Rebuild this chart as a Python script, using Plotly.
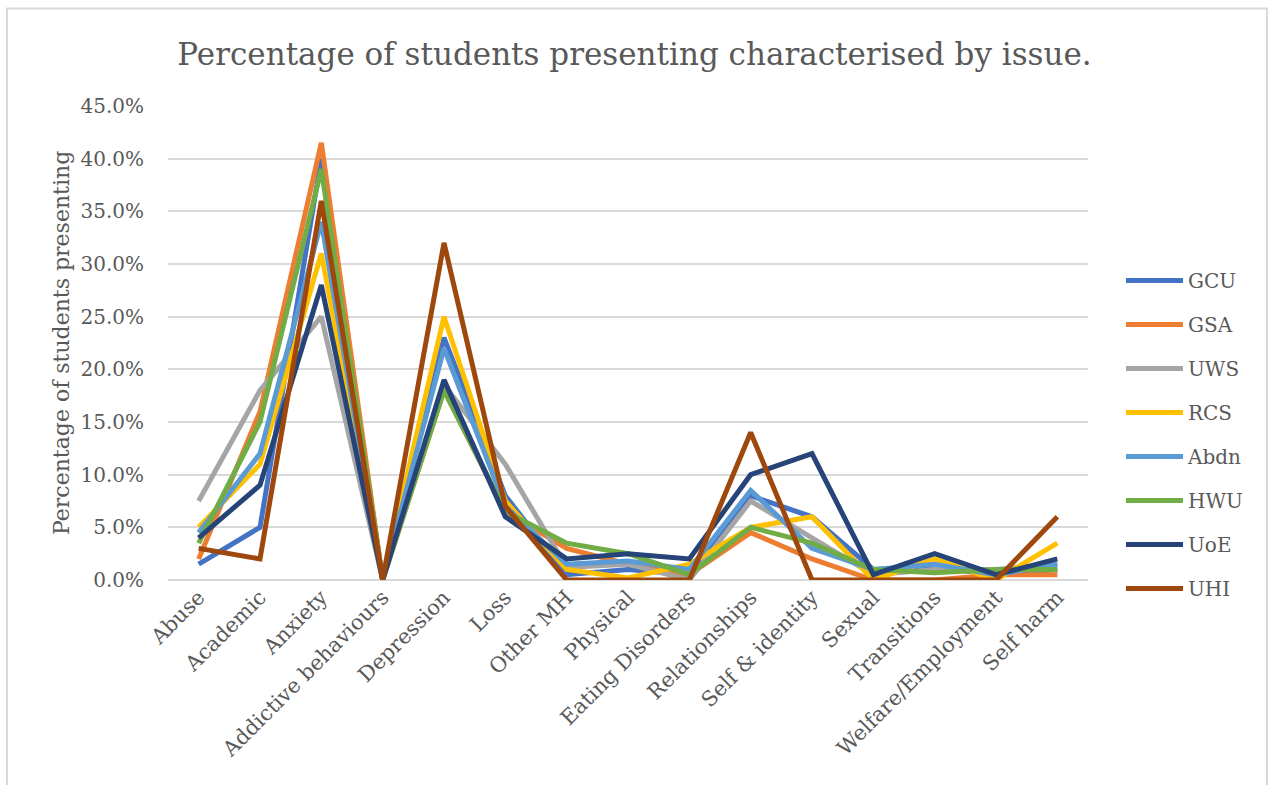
import plotly.graph_objects as go

# Issue categories along the x axis
categories = [
    "Abuse", "Academic", "Anxiety", "Addictive behaviours", "Depression",
    "Loss", "Other MH", "Physical", "Eating Disorders", "Relationships",
    "Self & identity", "Sexual", "Transitions", "Welfare/Employment", "Self harm",
]

# Percentage of students presenting, per institution
GCU = [1.5, 5, 40, 0, 23, 8, 0.5, 1.0, 0.5, 8, 6, 1.0, 1.2, 0.5, 1.0]
GSA = [2, 16, 41.5, 0, 18, 6.5, 3, 1.5, 0.5, 4.5, 2, 0, 0, 0.5, 0.5]
UWS = [7.5, 18, 25, 0, 18.5, 11, 1.2, 1.5, 0, 7.5, 4, 0.5, 1.0, 1.0, 1.5]
RCS = [5, 11, 31, 0, 25, 7.5, 1.0, 0.2, 1.5, 5, 6, 0, 2, 0, 3.5]
Abdn = [4.5, 12, 34, 0, 22, 7, 1.5, 1.8, 1.0, 8.5, 3, 1.0, 1.5, 0.5, 1.5]
HWU = [3.5, 15, 39, 0, 18, 6.5, 3.5, 2.5, 0.5, 5, 3.5, 1.0, 0.7, 1.0, 1.0]
UoE = [4, 9, 28, 0, 19, 6, 2, 2.5, 2, 10, 12, 0.5, 2.5, 0.5, 2]
UHI = [3, 2, 36, 0, 32, 7, 0, 0, 0, 14, 0, 0, 0, 0, 6]

series = [
    ("GCU", GCU, "#4472C4"),
    ("GSA", GSA, "#ED7D31"),
    ("UWS", UWS, "#A5A5A5"),
    ("RCS", RCS, "#FFC000"),
    ("Abdn", Abdn, "#5B9BD5"),
    ("HWU", HWU, "#70AD47"),
    ("UoE", UoE, "#264478"),
    ("UHI", UHI, "#9E480E"),
]

FONT = "DejaVu Serif"
TEXT = "#595959"
GRID = "#D9D9D9"

W, H = 1269, 785
L, R, T, B = 168, 181, 106, 205
pw, ph = W - L - R, H - T - B

fig = go.Figure()
for name, vals, color in series:
    fig.add_trace(go.Scatter(
        x=categories, y=vals, name=name, mode="lines",
        line=dict(color=color, width=5),
        legendgroup=name, cliponaxis=False,
    ))

def px_x(p):
    return (p - L) / pw

def px_y(p):
    return (H - B - p) / ph

fig.update_layout(
    width=W, height=H,
    margin=dict(l=L, r=R, t=T, b=B, autoexpand=False),
    paper_bgcolor="white", plot_bgcolor="white",
    font=dict(family=FONT, color=TEXT, size=20),
    title=dict(
        text="Percentage of students presenting characterised by issue.",
        font=dict(family=FONT, size=31, color=TEXT),
        x=0.5, xref="container", xanchor="center",
        y=1 - 54 / H, yref="container", yanchor="middle",
    ),
    xaxis=dict(
        range=[-0.5, len(categories) - 0.5], tickangle=-45,
        showgrid=False, showline=False, zeroline=False,
        tickfont=dict(size=21, color=TEXT), ticks="",
    ),
    yaxis=dict(
        range=[0, 45], dtick=5, tickformat=".1f", ticksuffix="%",
        showgrid=True, gridcolor=GRID, gridwidth=1.5,
        zeroline=True, zerolinecolor=GRID, zerolinewidth=1.5,
        showline=False, ticks="", ticklabelstandoff=23,
        tickfont=dict(size=20, color=TEXT),
    ),
    legend=dict(
        x=px_x(1121), xanchor="left", y=px_y(261), yanchor="top",
        font=dict(size=20, color=TEXT), tracegroupgap=15,
        itemwidth=57, bgcolor="rgba(0,0,0,0)",
    ),
    showlegend=True,
    annotations=[dict(
        text="Percentage of students presenting", textangle=-90,
        x=px_x(61), y=px_y(343), xref="paper", yref="paper",
        xanchor="center", yanchor="middle", showarrow=False,
        font=dict(size=22, color=TEXT, family=FONT),
    )],
    shapes=[dict(
        type="rect", xref="paper", yref="paper",
        x0=px_x(7), x1=px_x(1267), y0=px_y(8.5), y1=px_y(800),
        line=dict(color=GRID, width=2), fillcolor="rgba(0,0,0,0)", layer="below",
    )],
)

fig.write_html("out.html")
